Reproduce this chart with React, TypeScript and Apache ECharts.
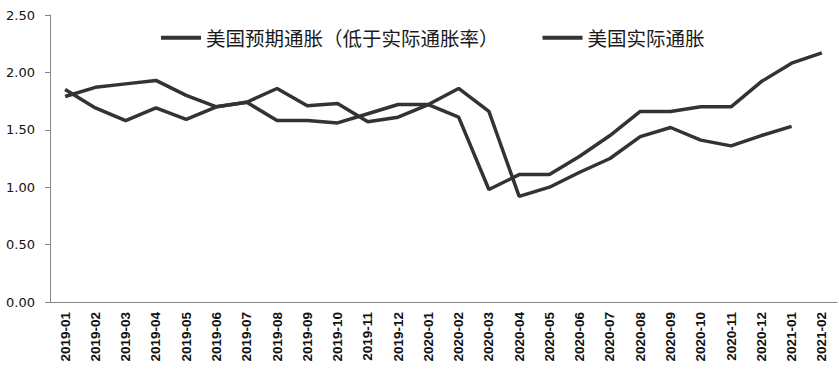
import React, { useEffect, useRef } from "react";
import * as echarts from "echarts";

const categories = [
  "2019-01", "2019-02", "2019-03", "2019-04", "2019-05", "2019-06", "2019-07", "2019-08", "2019-09", "2019-10", "2019-11", "2019-12",
  "2020-01", "2020-02", "2020-03", "2020-04", "2020-05", "2020-06", "2020-07", "2020-08", "2020-09", "2020-10", "2020-11", "2020-12",
  "2021-01", "2021-02",
];

const expectedName = "美国预期通胀（低于实际通胀率）";
const actualName = "美国实际通胀";

const expectedValues = [
  1.79, 1.87, 1.90, 1.93, 1.80, 1.70, 1.74, 1.58, 1.58, 1.56, 1.64, 1.72,
  1.72, 1.61, 0.98, 1.11, 1.11, 1.27, 1.45, 1.66, 1.66, 1.70, 1.70, 1.92,
  2.08, 2.17,
];

const actualValues = [
  1.85, 1.69, 1.58, 1.69, 1.59, 1.70, 1.74, 1.86, 1.71, 1.73, 1.57, 1.61,
  1.72, 1.86, 1.66, 0.92, 1.00, 1.13, 1.25, 1.44, 1.52, 1.41, 1.36, 1.45,
  1.53,
];

const yMin = 0;
const yMax = 2.5;
const yInterval = 0.5;

const lineColor = "#333333";
const axisColor = "#868686";

export default function App() {
  const ref = useRef<HTMLDivElement>(null);

  useEffect(() => {
    if (!ref.current) return;
    const chart = echarts.init(ref.current, null, { renderer: "svg" });
    chart.setOption({
      animation: false,
      backgroundColor: "#ffffff",
      grid: { left: 50, right: 2, top: 15, bottom: 72, containLabel: false },
      legend: {
        left: 156,
        top: 23,
        itemGap: 44,
        itemWidth: 40,
        itemHeight: 4,
        icon: "rect",
        textStyle: { fontFamily: "Noto Sans CJK SC", fontSize: 19.5, color: "#1a1a1a" },
        data: [expectedName, actualName],
      },
      xAxis: {
        type: "category",
        data: categories,
        boundaryGap: true,
        axisLine: { lineStyle: { color: axisColor, width: 1 } },
        axisTick: { alignWithLabel: false, length: 5, lineStyle: { color: axisColor } },
        axisLabel: {
          rotate: 90,
          interval: 0,
          margin: 10,
          fontFamily: "Liberation Sans",
          fontWeight: "bold",
          fontSize: 13.5,
          color: "#111",
        },
        splitLine: { show: false },
      },
      yAxis: {
        type: "value",
        min: yMin,
        max: yMax,
        interval: yInterval,
        axisLine: { show: true, lineStyle: { color: axisColor, width: 1 } },
        axisTick: { show: true, length: 5, lineStyle: { color: axisColor } },
        axisLabel: {
          margin: 15,
          fontFamily: "DejaVu Sans",
          fontSize: 13,
          color: "#111",
          formatter: (v: number) => v.toFixed(2),
        },
        splitLine: { show: false },
      },
      series: [
        {
          name: expectedName,
          type: "line",
          data: expectedValues,
          showSymbol: false,
          symbol: "none",
          lineStyle: { color: lineColor, width: 3.5 },
          itemStyle: { color: lineColor },
        },
        {
          name: actualName,
          type: "line",
          data: actualValues,
          showSymbol: false,
          symbol: "none",
          lineStyle: { color: lineColor, width: 3.5 },
          itemStyle: { color: lineColor },
        },
      ],
    });
    return () => chart.dispose();
  }, []);

  return <div ref={ref} style={{ width: 839, height: 374, position: "absolute", left: 0, top: 0 }} />;
}
